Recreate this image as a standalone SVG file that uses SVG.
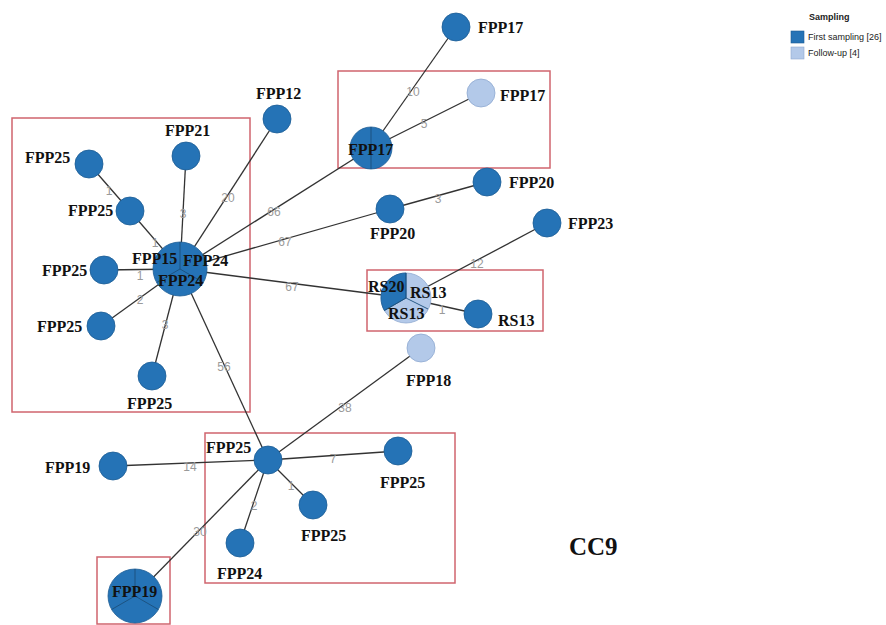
<svg xmlns="http://www.w3.org/2000/svg" width="886" height="625" viewBox="0 0 886 625">
  <style>
    .edge { stroke: #333; stroke-width: 1.3; fill: none; }
    .elabel { font-family: "Liberation Sans", Arial, sans-serif; font-size: 12px; fill: #9a9a9a; text-anchor: middle; }
    .nlabel { font-family: "Liberation Serif", "Times New Roman", serif; font-size: 16px; font-weight: bold; fill: #111; }
    .first { fill: #2573b6; stroke: #1d5d94; stroke-width: 0.8; }
    .follow { fill: #b3c9e9; stroke: #8fa9d0; stroke-width: 0.8; }
    .slice { stroke: #1b4f7c; stroke-width: 0.9; fill: none; }
    .cluster { fill: none; stroke: #d0646e; stroke-width: 1.5; }
    .legend { font-family: "Liberation Sans", Arial, sans-serif; font-size: 9px; fill: #222; }
  </style>

  <!-- cluster boxes -->
  <g id="clusters">
    <rect class="cluster" x="12" y="118" width="238" height="294"/>
    <rect class="cluster" x="338" y="71" width="212" height="97"/>
    <rect class="cluster" x="367" y="270" width="176" height="61"/>
    <rect class="cluster" x="205" y="433" width="250" height="150"/>
    <rect class="cluster" x="97" y="557" width="73" height="67"/>
  </g>

  <!-- connectors -->
  <g id="connectors">
    <line class="edge" x1="180" y1="269" x2="277" y2="119"/>
    <line class="edge" x1="180" y1="269" x2="186" y2="156"/>
    <line class="edge" x1="180" y1="269" x2="130" y2="211"/>
    <line class="edge" x1="130" y1="211" x2="89" y2="164"/>
    <line class="edge" x1="180" y1="269" x2="104" y2="270"/>
    <line class="edge" x1="180" y1="269" x2="101" y2="326"/>
    <line class="edge" x1="180" y1="269" x2="152" y2="376"/>
    <line class="edge" x1="180" y1="269" x2="371" y2="148"/>
    <line class="edge" x1="180" y1="269" x2="390" y2="209"/>
    <line class="edge" x1="180" y1="269" x2="406" y2="298"/>
    <line class="edge" x1="180" y1="269" x2="268" y2="460"/>
    <line class="edge" x1="371" y1="148" x2="456" y2="27"/>
    <line class="edge" x1="371" y1="148" x2="481" y2="93"/>
    <line class="edge" x1="390" y1="209" x2="487" y2="182"/>
    <line class="edge" x1="406" y1="298" x2="547" y2="223"/>
    <line class="edge" x1="406" y1="298" x2="478" y2="314"/>
    <line class="edge" x1="268" y1="460" x2="421" y2="348"/>
    <line class="edge" x1="268" y1="460" x2="113" y2="466"/>
    <line class="edge" x1="268" y1="460" x2="398" y2="451"/>
    <line class="edge" x1="268" y1="460" x2="313" y2="505"/>
    <line class="edge" x1="268" y1="460" x2="240" y2="543"/>
    <line class="edge" x1="268" y1="460" x2="135" y2="596"/>

    <text class="elabel" x="228" y="202">20</text>
    <text class="elabel" x="183" y="218">3</text>
    <text class="elabel" x="155" y="247">1</text>
    <text class="elabel" x="109" y="195">1</text>
    <text class="elabel" x="140" y="280">1</text>
    <text class="elabel" x="140" y="304">2</text>
    <text class="elabel" x="165" y="329">3</text>
    <text class="elabel" x="274" y="216">66</text>
    <text class="elabel" x="285" y="246">67</text>
    <text class="elabel" x="292" y="291">67</text>
    <text class="elabel" x="224" y="371">56</text>
    <text class="elabel" x="413" y="96">10</text>
    <text class="elabel" x="424" y="128">5</text>
    <text class="elabel" x="438" y="203">3</text>
    <text class="elabel" x="477" y="268">12</text>
    <text class="elabel" x="442" y="314">1</text>
    <text class="elabel" x="345" y="412">38</text>
    <text class="elabel" x="190" y="471">14</text>
    <text class="elabel" x="333" y="463">7</text>
    <text class="elabel" x="291" y="490">1</text>
    <text class="elabel" x="254" y="510">2</text>
    <text class="elabel" x="200" y="536">30</text>
  </g>

  <!-- central hub: FPP15 / FPP24 / FPP24 -->
  <g id="hub">
    <circle class="first" cx="180" cy="269" r="27"/>
    <path class="slice" d="M180,269 L180,242 M180,269 L203.4,282.5 M180,269 L156.6,282.5"/>
    <text class="nlabel" x="132" y="264">FPP15</text>
    <text class="nlabel" x="183" y="266">FPP24</text>
    <text class="nlabel" x="158" y="286">FPP24</text>
  </g>

  <g id="n-fpp12">
    <circle class="first" cx="277" cy="119" r="14"/>
    <text class="nlabel" x="256" y="99">FPP12</text>
  </g>
  <g id="n-fpp21">
    <circle class="first" cx="186" cy="156" r="14"/>
    <text class="nlabel" x="165" y="136">FPP21</text>
  </g>
  <g id="n-fpp25-a">
    <circle class="first" cx="89" cy="164" r="14"/>
    <text class="nlabel" x="25" y="163">FPP25</text>
  </g>
  <g id="n-fpp25-b">
    <circle class="first" cx="130" cy="211" r="14"/>
    <text class="nlabel" x="68" y="216">FPP25</text>
  </g>
  <g id="n-fpp25-c">
    <circle class="first" cx="104" cy="270" r="14"/>
    <text class="nlabel" x="42" y="276">FPP25</text>
  </g>
  <g id="n-fpp25-d">
    <circle class="first" cx="101" cy="326" r="14"/>
    <text class="nlabel" x="37" y="332">FPP25</text>
  </g>
  <g id="n-fpp25-e">
    <circle class="first" cx="152" cy="376" r="14"/>
    <text class="nlabel" x="127" y="409">FPP25</text>
  </g>

  <g id="n-fpp17-main">
    <circle class="first" cx="371" cy="148" r="21"/>
    <path class="slice" d="M371,127 L371,169"/>
    <text class="nlabel" x="348" y="155">FPP17</text>
  </g>
  <g id="n-fpp17-top">
    <circle class="first" cx="456" cy="27" r="14"/>
    <text class="nlabel" x="478" y="33">FPP17</text>
  </g>
  <g id="n-fpp17-follow">
    <circle class="follow" cx="481" cy="93" r="14"/>
    <text class="nlabel" x="500" y="101">FPP17</text>
  </g>

  <g id="n-fpp20-a">
    <circle class="first" cx="390" cy="209" r="14"/>
    <text class="nlabel" x="370" y="239">FPP20</text>
  </g>
  <g id="n-fpp20-b">
    <circle class="first" cx="487" cy="182" r="14"/>
    <text class="nlabel" x="509" y="188">FPP20</text>
  </g>
  <g id="n-fpp23">
    <circle class="first" cx="547" cy="223" r="14"/>
    <text class="nlabel" x="568" y="229">FPP23</text>
  </g>

  <!-- RS20 / RS13 / RS13 -->
  <g id="n-rs">
    <circle class="follow" cx="406" cy="298" r="25"/>
    <path class="first" d="M406,298 L384.35,310.5 A25,25 0 0,1 406,273 Z"/>
    <path class="slice" d="M406,298 L406,273 M406,298 L428,309 M406,298 L384.35,310.5"/>
    <text class="nlabel" x="368" y="292">RS20</text>
    <text class="nlabel" x="410" y="298">RS13</text>
    <text class="nlabel" x="388" y="319">RS13</text>
  </g>
  <g id="n-rs13">
    <circle class="first" cx="478" cy="314" r="14"/>
    <text class="nlabel" x="498" y="326">RS13</text>
  </g>

  <g id="n-fpp18">
    <circle class="follow" cx="421" cy="348" r="14"/>
    <text class="nlabel" x="406" y="386">FPP18</text>
  </g>

  <g id="n-fpp25-hub2">
    <circle class="first" cx="268" cy="460" r="14"/>
    <text class="nlabel" x="206" y="453">FPP25</text>
  </g>
  <g id="n-fpp19">
    <circle class="first" cx="113" cy="466" r="14"/>
    <text class="nlabel" x="45" y="473">FPP19</text>
  </g>
  <g id="n-fpp25-f">
    <circle class="first" cx="398" cy="451" r="14"/>
    <text class="nlabel" x="380" y="488">FPP25</text>
  </g>
  <g id="n-fpp25-g">
    <circle class="first" cx="313" cy="505" r="14"/>
    <text class="nlabel" x="301" y="541">FPP25</text>
  </g>
  <g id="n-fpp24-b">
    <circle class="first" cx="240" cy="543" r="14"/>
    <text class="nlabel" x="217" y="579">FPP24</text>
  </g>
  <g id="n-fpp19-main">
    <circle class="first" cx="135" cy="596" r="27"/>
    <path class="slice" d="M135,596 L135,569 M135,596 L158.4,609.5 M135,596 L111.6,609.5"/>
    <text class="nlabel" x="112" y="597">FPP19</text>
  </g>

  <text x="569" y="555" font-family="'Liberation Serif', 'Times New Roman', serif" font-size="25" font-weight="bold" fill="#111">CC9</text>

  <!-- legend -->
  <g id="legend">
    <text class="legend" x="809" y="20" font-weight="bold">Sampling</text>
    <rect x="791" y="31" width="13" height="12" fill="#2573b6" stroke="#1d5d94" stroke-width="0.6"/>
    <text class="legend" x="808" y="40">First sampling [26]</text>
    <rect x="791" y="47" width="13" height="12" fill="#b3c9e9" stroke="#8fa9d0" stroke-width="0.6"/>
    <text class="legend" x="808" y="56">Follow-up [4]</text>
  </g>
</svg>
